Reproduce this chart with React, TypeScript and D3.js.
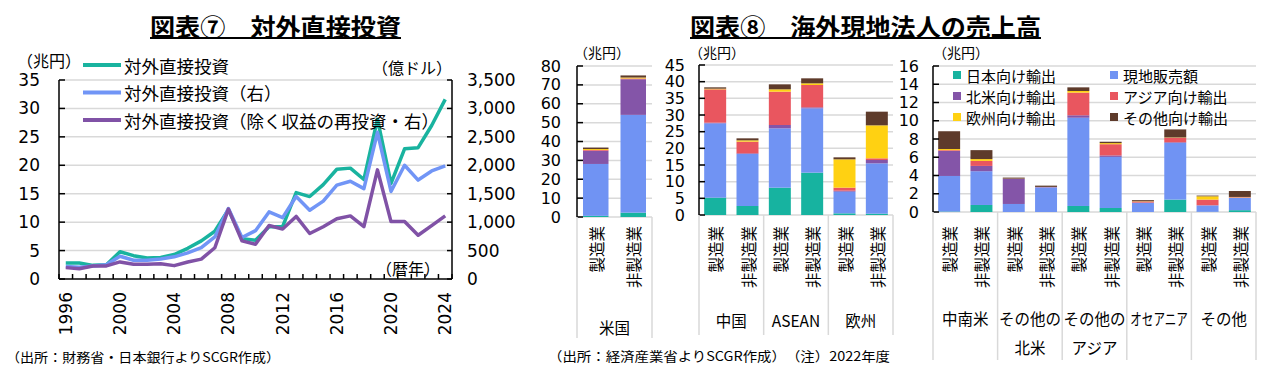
import React from 'react';
import * as d3 from 'd3';

// ---------- Data: 図表⑦ 対外直接投資 ----------
const years = [1996,1997,1998,1999,2000,2001,2002,2003,2004,2005,2006,2007,2008,2009,2010,2011,2012,2013,2014,2015,2016,2017,2018,2019,2020,2021,2022,2023,2024];
// 兆円 (left axis)
const fdiYen = [2.8,2.8,2.4,2.5,4.8,4.1,3.7,3.8,4.3,5.4,6.7,8.4,12.2,7.1,6.8,9.2,9.2,15.2,14.5,16.6,19.3,19.5,17.5,28.1,16.8,22.9,23.1,27.0,31.6];
// 億ドル (right axis)
const fdiUsd = [220,205,230,250,400,330,330,350,390,460,550,740,1240,730,850,1180,1080,1450,1210,1370,1650,1720,1590,2580,1540,2000,1740,1900,1990];
const fdiUsdExReinv = [200,180,230,230,300,260,260,270,235,300,350,550,1230,670,610,940,880,1100,800,920,1060,1110,920,1920,1010,1010,770,940,1110];
const leftTicks = [0,5,10,15,20,25,30,35];
const rightTicks = [0,500,1000,1500,2000,2500,3000,3500];
const yearLabels = [1996,2000,2004,2008,2012,2016,2020,2024];
const lineNames = ['対外直接投資', '対外直接投資（右）', '対外直接投資（除く収益の再投資・右）'];

// ---------- Data: 図表⑧ 海外現地法人の売上高 (兆円, 2022年度) ----------
const barIndustries = ['製造業','非製造業','製造業','非製造業','製造業','非製造業','製造業','非製造業','製造業','非製造業','製造業','非製造業','製造業','非製造業','製造業','非製造業','製造業','非製造業'];
const barRegions = ['米国','米国','中国','中国','ASEAN','ASEAN','欧州','欧州','中南米','中南米','その他の北米','その他の北米','その他のアジア','その他のアジア','オセアニア','オセアニア','その他','その他'];
const toJapan  = [0.6, 2.3, 5.2, 2.7, 8.2, 12.7, 0.5, 0.4, 0.05, 0.77, 0, 0, 0.66, 0.44, 0, 1.36, 0.02, 0.2];
const localSales = [27.5, 51.8, 22.3, 15.6, 17.8, 19.3, 6.5, 15.1, 3.9, 3.7, 0.88, 2.71, 9.67, 5.6, 1.0, 6.22, 0.7, 1.34];
const toNorthAm = [7.0, 18.9, 0.2, 0.2, 1.0, 0.3, 0.3, 1.0, 2.75, 0.58, 2.75, 0.01, 0.27, 0.16, 0.03, 0.07, 0.02, 0.03];
const toAsia   = [0.4, 0.4, 10.0, 3.5, 10.0, 6.7, 0.9, 0.5, 0.08, 0.55, 0.02, 0.02, 2.48, 1.23, 0.12, 0.48, 0.62, 0.05];
const toEurope = [0.5, 0.5, 0.2, 0.4, 0.7, 0.5, 8.5, 9.9, 0.12, 0.2, 0.01, 0.01, 0.18, 0.12, 0.03, 0.04, 0.36, 0.03];
const toOther  = [0.8, 1.1, 0.4, 0.6, 1.5, 1.5, 0.6, 4.1, 1.95, 0.98, 0.11, 0.14, 0.4, 0.15, 0.12, 0.88, 0.08, 0.65];
const seriesNames = ['日本向け輸出','現地販売額','北米向け輸出','アジア向け輸出','欧州向け輸出','その他向け輸出'];
const seriesValues = [toJapan, localSales, toNorthAm, toAsia, toEurope, toOther];
const seriesColors = ['#17b3a0','#7093f3','#8455a8','#e9565f','#ffd112','#5e3b2b'];

const FONT_JP = "'Noto Sans CJK JP', 'Noto Sans', sans-serif";
const FONT_NUM = "'DejaVu Sans', 'Noto Sans', sans-serif";
const GRID = '#d9d9d9';

function LineChart() {
  const L = 59, R = 452, T = 80, B = 279;
  const x = d3.scaleBand<number>().domain(years).range([L, R]);
  const cx = (y: number) => (x(y) as number) + x.bandwidth() / 2;
  const yL = d3.scaleLinear().domain([0, 35]).range([B, T]);
  const yR = d3.scaleLinear().domain([0, 3500]).range([B, T]);
  const lineL = d3.line<number>().x((_, i) => cx(years[i])).y(d => yL(d));
  const lineR = d3.line<number>().x((_, i) => cx(years[i])).y(d => yR(d));
  const colors = ['#19b39f', '#7195f6', '#8052a6'];
  const paths = [lineL(fdiYen), lineR(fdiUsd), lineR(fdiUsdExReinv)];
  const boundaries = years.map(y => x(y) as number).concat([R]);
  return (
    <g>
      {leftTicks.filter(t => t > 0).map(t => (
        <line key={'g' + t} x1={L} x2={R} y1={yL(t)} y2={yL(t)} stroke={GRID} strokeWidth={1.5} />
      ))}
      {paths.map((p, i) => (
        <path key={'p' + i} d={p as string} fill="none" stroke={colors[i]} strokeWidth={3.5} strokeLinejoin="round" />
      ))}
      <line x1={L} x2={L} y1={T} y2={B} stroke="#000" strokeWidth={1.5} />
      <line x1={R} x2={R} y1={T} y2={B} stroke="#000" strokeWidth={1.5} />
      <line x1={L} x2={R} y1={B} y2={B} stroke="#000" strokeWidth={1.5} />
      {leftTicks.map(t => (
        <g key={'lt' + t}>
          <line x1={L} x2={L + 6} y1={yL(t)} y2={yL(t)} stroke="#000" strokeWidth={1.5} />
          <text x={40} y={yL(t)} textAnchor="end" dominantBaseline="central" fontFamily={FONT_NUM} fontSize={17}>{t}</text>
        </g>
      ))}
      {rightTicks.map(t => (
        <g key={'rt' + t}>
          <line x1={R - 5} x2={R} y1={yR(t)} y2={yR(t)} stroke="#000" strokeWidth={1.5} />
          <text x={467} y={yR(t)} textAnchor="start" dominantBaseline="central" fontFamily={FONT_NUM} fontSize={17}>{d3.format(',')(t)}</text>
        </g>
      ))}
      {boundaries.map((b, i) => (
        <line key={'xt' + i} x1={b} x2={b} y1={B - 5} y2={B} stroke="#000" strokeWidth={1.5} />
      ))}
      {yearLabels.map(y => (
        <text key={'yl' + y} transform={`translate(${cx(y)},292) rotate(-90)`} textAnchor="end" dominantBaseline="central" fontFamily={FONT_NUM} fontSize={17}>{y}</text>
      ))}
      <text x={17} y={60} dominantBaseline="central" fontFamily={FONT_JP} fontSize={16}>（兆円）</text>
      <text x={452} y={67} textAnchor="end" dominantBaseline="central" fontFamily={FONT_JP} fontSize={16}>（億ドル）</text>
      <text x={440} y={268} textAnchor="end" dominantBaseline="central" fontFamily={FONT_JP} fontSize={16}>（暦年）</text>
      {lineNames.map((n, i) => (
        <g key={'lg' + i}>
          <line x1={83} x2={121} y1={65 + i * 27.5} y2={65 + i * 27.5} stroke={colors[i]} strokeWidth={4} />
          <text x={124} y={65 + i * 27.5} dominantBaseline="central" fontFamily={FONT_JP} fontSize={17.5}>{n}</text>
        </g>
      ))}
      <text x={6} y={356} dominantBaseline="central" fontFamily={FONT_JP} fontSize={13} textLength={274} lengthAdjust="spacingAndGlyphs">（出所：財務省・日本銀行よりSCGR作成）</text>
    </g>
  );
}

type PanelSpec = {
  idx: number[]; L: number; R: number; T: number; B: number; max: number; step: number;
  labelX: number; unitX: number; groups: string[][]; groupY: number; boxBottom: number;
};

const panels: PanelSpec[] = [
  { idx: [0, 1], L: 577, R: 652, T: 66, B: 217, max: 80, step: 10, labelX: 561, unitX: 574, groups: [['米国']], groupY: 327, boxBottom: 338 },
  { idx: [2, 3, 4, 5, 6, 7], L: 699, R: 893, T: 65, B: 215, max: 45, step: 5, labelX: 685, unitX: 689, groups: [['中国'], ['ASEAN'], ['欧州']], groupY: 320, boxBottom: 335 },
  { idx: [8, 9, 10, 11, 12, 13, 14, 15, 16, 17], L: 933, R: 1256, T: 66, B: 212, max: 16, step: 2, labelX: 919, unitX: 933, groups: [['中南米'], ['その他の', '北米'], ['その他の', 'アジア'], ['オセアニア'], ['その他']], groupY: 318, boxBottom: 360 },
];

function BarPanel({ p }: { p: PanelSpec }) {
  const x = d3.scaleBand<number>().domain(p.idx).range([p.L, p.R]).paddingInner(0.32).paddingOuter(0.16);
  const y = d3.scaleLinear().domain([0, p.max]).range([p.B, p.T]);
  const ticks = d3.range(0, p.max + 0.001, p.step);
  const stack = d3.stack<number>().keys(seriesNames.map((_, i) => String(i))).value((d, k) => seriesValues[+k][d]);
  const stacked = stack(p.idx);
  const nGroups = p.groups.length;
  const gw = (p.R - p.L) / nGroups;
  const gfs = 15.5;
  return (
    <g>
      {ticks.map(t => (
        <line key={'g' + t} x1={p.L} x2={p.R} y1={y(t)} y2={y(t)} stroke={GRID} strokeWidth={1.5} />
      ))}
      {stacked.map((s, si) => (
        <g key={'s' + si} fill={seriesColors[si]}>
          {s.map((d, j) => (
            <rect key={j} x={x(p.idx[j]) as number} width={x.bandwidth()} y={y(d[1])} height={Math.max(0, y(d[0]) - y(d[1]))} />
          ))}
        </g>
      ))}
      <line x1={p.L} x2={p.L} y1={p.T} y2={p.B} stroke="#000" strokeWidth={1.5} />
      {ticks.map(t => (
        <g key={'t' + t}>
          <line x1={p.L} x2={p.L + 6} y1={y(t)} y2={y(t)} stroke="#000" strokeWidth={1.5} />
          <text x={p.labelX} y={y(t)} textAnchor="end" dominantBaseline="central" fontFamily={FONT_NUM} fontSize={16}>{t}</text>
        </g>
      ))}
      {d3.range(nGroups + 1).map(g => (
        <line key={'b' + g} x1={p.L + g * gw} x2={p.L + g * gw} y1={p.B} y2={p.boxBottom} stroke={GRID} strokeWidth={1.5} />
      ))}
      {p.idx.map(i => (
        <text key={'c' + i} transform={`translate(${(x(i) as number) + x.bandwidth() / 2},226) rotate(-90)`} textAnchor="end" dominantBaseline="central" fontFamily={FONT_JP} fontSize={15.5}>{barIndustries[i]}</text>
      ))}
      {p.groups.map((lines, g) => (
        <g key={'gl' + g}>
          {lines.map((ln, k) => {
            const long = !/^[A-Z]+$/.test(ln) && ln.length * gfs > gw - 1;
            return (
              <text key={k} x={p.L + (g + 0.5) * gw} y={p.groupY + k * 29} textAnchor="middle" dominantBaseline="central" fontFamily={FONT_JP}
                fontSize={gfs} textLength={long ? gw - 7 : undefined} lengthAdjust={long ? 'spacingAndGlyphs' : undefined}>{ln}</text>
            );
          })}
        </g>
      ))}
      <text x={p.unitX} y={52} dominantBaseline="central" fontFamily={FONT_JP} fontSize={14}>（兆円）</text>
    </g>
  );
}

function Legend() {
  const cols = [953, 1110];
  const rows = [75, 96, 117];
  return (
    <g>
      {seriesNames.map((name, i) => {
        const c = i % 2, r = Math.floor(i / 2);
        return (
          <g key={i}>
            <rect x={cols[c]} y={rows[r] - 4} width={8} height={8} fill={seriesColors[i]} />
            <text x={cols[c] + 13} y={rows[r]} dominantBaseline="central" fontFamily={FONT_JP} fontSize={15}>{name}</text>
          </g>
        );
      })}
    </g>
  );
}

export default function App() {
  return (
    <svg width={1272} height={378} style={{ position: 'absolute', left: 0, top: 0, background: '#fff' }}>
      <rect x={0} y={0} width={1272} height={378} fill="#fff" />
      <text x={150} y={25} dominantBaseline="central" fontFamily={FONT_JP} fontWeight={700} fontSize={24} textLength={251} lengthAdjust="spacingAndGlyphs">図表⑦　対外直接投資</text>
      <line x1={150} x2={401} y1={38} y2={38} stroke="#000" strokeWidth={2} />
      <text x={690} y={25} dominantBaseline="central" fontFamily={FONT_JP} fontWeight={700} fontSize={24} textLength={351} lengthAdjust="spacingAndGlyphs">図表⑧　海外現地法人の売上高</text>
      <line x1={690} x2={1041} y1={38} y2={38} stroke="#000" strokeWidth={2} />
      <LineChart />
      {panels.map((p, i) => <BarPanel key={i} p={p} />)}
      <Legend />
      <text x={548} y={355} dominantBaseline="central" fontFamily={FONT_JP} fontSize={13} textLength={342} lengthAdjust="spacingAndGlyphs">（出所：経済産業省よりSCGR作成）　（注）2022年度</text>
    </svg>
  );
}
